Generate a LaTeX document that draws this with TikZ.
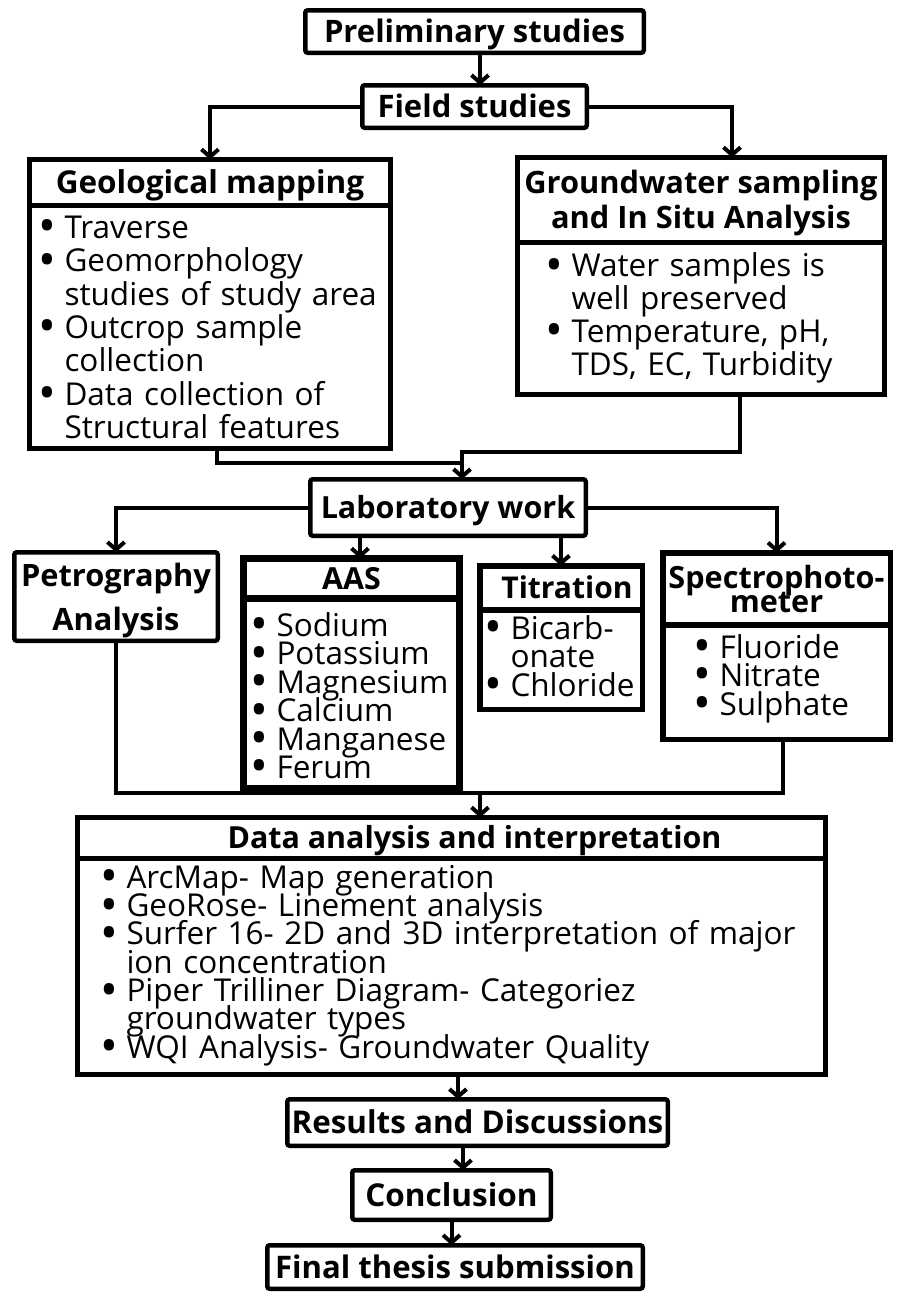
\documentclass[tikz,border=0pt]{standalone}
\usepackage{fontspec}
\usepackage{graphicx}
\setmainfont{Open Sans}
\usetikzlibrary{arrows.meta,calc}
\newcommand{\fsz}[2]{\fontsize{#1}{#2}\selectfont\lineskiplimit=-100pt\lineskip=0pt}
\newcommand{\itm}{\makebox[26pt][l]{\raisebox{-0.14em}{\scalebox{1.5}{\textbullet}}}}
\newcommand{\cnt}{\hspace*{26pt}}
\newcommand{\tp}[1]{\rule{0pt}{#1pt}}
\newcommand{\bt}[1]{\rule[-#1pt]{0pt}{0pt}}
\begin{document}
\begin{tikzpicture}[x=1pt,y=-1pt,
  box/.style={draw, line width=4.5pt, rounded corners=2.5pt, fill=white, inner sep=0pt, outer sep=0pt, align=center},
  sbox/.style={box, rounded corners=0pt},
  hb/.style 2 args={font=\fsz{#1}{#1}\bfseries, text height=#2pt, text depth=0pt},
  conn/.style={line width=4pt},
  arr/.style={line width=4pt, -{Straight Barb[length=7.5pt,width=17pt]}},
  lst/.style={font=\fsz{31.5}{#1}, align=left}
]
\fill[white] (0,0) rectangle (897,1294);
\useasboundingbox (0,0) rectangle (897,1294);

% top
\node[box, hb={31}{22.1}, minimum width=338.5, minimum height=42.5] (pre) at (474.5,31.5) {Preliminary studies};
\node[box, hb={31}{22.1}, minimum width=224.5, minimum height=42.5] (fld) at (474.5,106.5) {Field studies};

% geological mapping
\node[sbox, line width=5pt, hb={31.5}{22.5}, minimum width=361, minimum height=45.5, anchor=north] (geoh) at (210,159.5) {Geological mapping};
\node[sbox, line width=5pt, lst=33.3, text width=343, inner xsep=9, minimum height=242.5, anchor=north] (geob) at (geoh.south)
 {\tp{33.5}\itm Traverse\\
 \itm Geomorphology\\
 \cnt studies of study area\\
 \itm Outcrop sample\\
 \cnt collection\\
 \itm Data collection of\\
 \cnt Structural features\bt{10}};

% groundwater
\node[sbox, line width=5pt, font=\fsz{30.8}{35}\bfseries, minimum width=367, minimum height=84.5, anchor=north] (gwh) at (701,157.5)
 {\tp{32}Groundwater sampling\\and In Situ Analysis\bt{10}};
\node[sbox, line width=5pt, lst=32.7, text width=311, inner xsep=28, minimum height=152.5, anchor=north] (gwb) at (gwh.south)
 {\tp{27.5}\itm Water samples is\\
 \cnt well preserved\\
 \itm Temperature, pH,\\
 \cnt TDS, EC, Turbidity\bt{12}};

% laboratory
\node[box, hb={30.5}{21.8}, minimum width=275.5, minimum height=56.5] (lab) at (448,507.5) {Laboratory work};

\node[box, font=\fsz{30.8}{43.3}\bfseries, minimum width=203.5, minimum height=88.5] (pet) at (116,596.5)
 {\tp{33.7}Petrography\\Analysis\bt{10}};

\node[sbox, line width=7pt, hb={30.4}{21.7}, minimum width=216, minimum height=39.5, anchor=north] (aash) at (351.5,558.5) {AAS};
\node[sbox, line width=7pt, lst=28.4, text width=202, inner xsep=7, minimum height=185.5, anchor=north] (aasb) at (aash.south)
 {\tp{38.5}\itm Sodium\\
 \itm Potassium\\
 \itm Magnesium\\
 \itm Calcium\\
 \itm Manganese\\
 \itm Ferum\bt{10}};

\node[sbox, line width=5.5pt, hb={30}{21.4}, minimum width=162.5, minimum height=44.25, anchor=north] (tith) at (561,565.75) {\hspace*{12pt}Titration};
\node[sbox, line width=5.5pt, lst=28.5, text width=153, inner xsep=4.75, minimum height=99.25, anchor=north] (titb) at (tith.south)
 {\tp{27.75}\itm Bicarb-\\
 \cnt onate\\
 \itm Chloride\bt{12}};

\node[sbox, line width=5.5pt, font=\fsz{30.6}{24.7}\bfseries, minimum width=227.5, minimum height=72.25, anchor=north] (sphh) at (776.5,552.75)
 {\tp{33.5}Spectrophoto-\\meter\bt{10}};
\node[sbox, line width=5.5pt, lst=28.5, text width=166, inner xsep=30.75, minimum height=114.25, anchor=north] (sphb) at (sphh.south)
 {\tp{25.75}\itm Fluoride\\
 \itm Nitrate\\
 \itm Sulphate\bt{17}};

% data analysis
\node[sbox, line width=5pt, hb={30.4}{21.7}, minimum width=748, minimum height=40.5, anchor=north] (dah) at (451.5,817.5)
 {\hspace*{46pt}Data analysis and interpretation};
\node[sbox, line width=5pt, lst=28.33, text width=702, inner xsep=23, minimum height=216.5, anchor=north] (dab) at (dah.south)
 {\tp{26.1}\itm ArcMap- Map generation\\
 \itm GeoRose- Linement analysis\\
 \itm Surfer 16- 2D and 3D interpretation of major\\
 \cnt ion concentration\\
 \itm Piper Trilliner Diagram- Categoriez\\
 \cnt groundwater types\\
 \itm WQI Analysis- Groundwater Quality\bt{12}};

% bottom
\node[box, hb={31.4}{22.4}, minimum width=380.5, minimum height=46.5] (res) at (477.5,1122.5) {Results and Discussions};
\node[box, hb={31.5}{22.5}, minimum width=198.5, minimum height=49.5] (con) at (451.5,1195) {Conclusion};
\node[box, hb={31.1}{22.2}, minimum width=375.5, minimum height=43.5] (fin) at (455,1267) {Final thesis submission};

% guide coordinates
\coordinate (x480) at (480,0);
\coordinate (x732) at (732,0);
\coordinate (x217) at (217,0);
\coordinate (x740) at (740,0);
\coordinate (x360) at (360,0);
\coordinate (x783) at (783,0);
\coordinate (x458) at (458,0);
\coordinate (x463) at (463,0);
\coordinate (jt) at (462,452);
\coordinate (jg) at (462,463);
\coordinate (jd) at (480,793);

% connectors
\draw[arr] (pre.south -| x480) -- (fld.north -| x480);
\draw[arr] (fld.west) -| (geoh.north);
\draw[arr] (fld.east) -| (gwh.north -| x732);
\draw[conn] (geob.south -| x217) |- (jg);
\draw[arr] (gwb.south -| x740) |- (jt) -- (lab.north -| jt);
\draw[arr] (lab.west) -| (pet.north);
\draw[arr] (lab.east) -| (sphh.north);
\draw[arr] (lab.south -| x360) -- (aash.north -| x360);
\draw[arr] (lab.south -| tith.north) -- (tith.north);
\draw[conn] (pet.south) |- (jd);
\draw[conn] (sphb.south -| x783) |- (jd);
\draw[arr] (jd) -- (dah.north -| jd);
\draw[arr] (dab.south -| x458) -- (res.north -| x458);
\draw[arr] (res.south -| x463) -- (con.north -| x463);
\draw[arr] (con.south) -- (con.south |- fin.north);
\end{tikzpicture}
\end{document}
